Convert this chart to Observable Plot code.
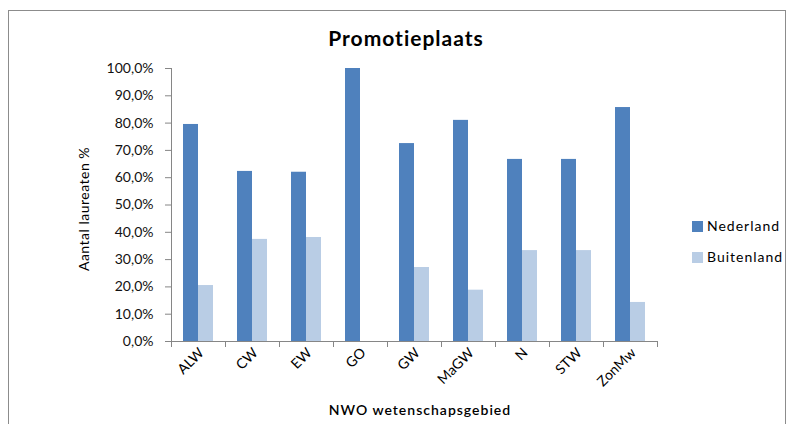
<!DOCTYPE html>
<html>
<head>
<meta charset="utf-8">
<script src="https://cdn.jsdelivr.net/npm/d3@7"></script>
<script src="https://cdn.jsdelivr.net/npm/@observablehq/plot@0.6"></script>
<style>
  body { margin: 0; background: #fff; }
  #wrap { position: relative; width: 793px; height: 424px; overflow: hidden; background: #fff; font-family: Lato, "Open Sans", sans-serif; }
  #border { position: absolute; left: 8px; top: 10px; width: 778px; height: 430px; border: 1px solid #8c8c8c; box-sizing: border-box; }
  #title { position: absolute; left: 0; width: 812px; top: 25px; text-align: center; font-weight: bold; font-size: 21px; letter-spacing: 1px; color: #000; }
  #ylab { position: absolute; left: 83px; top: 209px; transform: translate(-50%, -50%) rotate(-90deg); white-space: nowrap; font-size: 14px; letter-spacing: 0.5px; color: #000; }
  #xlab { position: absolute; left: 0; width: 840px; top: 401px; text-align: center; font-size: 14px; font-weight: 600; letter-spacing: 1px; color: #000; }
  .leg { position: absolute; left: 692px; font-size: 14px; letter-spacing: 1px; color: #000; white-space: nowrap; }
  .sw { display: inline-block; width: 11px; height: 11px; margin-right: 4px; vertical-align: -1px; }
  #chart { position: absolute; left: 0; top: 0; }
</style>
</head>
<body>
<div id="wrap">
  <div id="border"></div>
  <div id="chart"></div>
  <div id="title">Promotieplaats</div>
  <div id="ylab">Aantal laureaten %</div>
  <div id="xlab">NWO wetenschapsgebied</div>
  <div id="legend"></div>
</div>
<script>
const categories = ["ALW", "CW", "EW", "GO", "GW", "MaGW", "N", "STW", "ZonMw"];
const series = ["Nederland", "Buitenland"];
const nederland = [0.795, 0.623, 0.620, 1.000, 0.725, 0.810, 0.667, 0.667, 0.857];
const buitenland = [0.205, 0.374, 0.381, 0.000, 0.271, 0.188, 0.333, 0.333, 0.143];
const colors = ["#4F81BD", "#B9CDE5"];
const yTicks = [0, 0.1, 0.2, 0.3, 0.4, 0.5, 0.6, 0.7, 0.8, 0.9, 1.0];

const seriesValues = [nederland, buitenland];
const data = [];
categories.forEach((c, i) => {
  series.forEach((s, j) => data.push({cat: c, series: s, value: seriesValues[j][i]}));
});

const fmt = d => (d * 100).toFixed(1).replace(".", ",") + "%";
const axisColor = "#868686";
const plotH = 424 - 68 - 83;

const chart = Plot.plot({
  width: 793,
  height: 424,
  marginLeft: 167,
  marginRight: 132,
  marginTop: 68,
  marginBottom: 83,
  style: {fontFamily: "Lato, 'Open Sans', sans-serif", fontSize: "14px", color: "#000", background: "transparent"},
  fx: {domain: categories, padding: 0, label: null},
  x: {domain: series, paddingInner: 0, paddingOuter: 0.77, axis: null},
  y: {domain: [0, 1], label: null},
  color: {domain: series, range: colors},
  marks: [
    Plot.barY(data, {fx: "cat", x: "series", y: "value", fill: "series"}),
    Plot.frame({anchor: "left", facet: "super", stroke: axisColor}),
    Plot.frame({anchor: "bottom", facet: "super", stroke: axisColor}),
    Plot.frame({anchor: "left", stroke: axisColor, insetTop: plotH, insetBottom: -5}),
    Plot.frame({anchor: "right", facet: "super", stroke: axisColor, insetTop: plotH, insetBottom: -5}),
    Plot.axisY({ticks: yTicks, tickSize: 6, tickPadding: 12, tickFormat: fmt, stroke: axisColor, fill: "#111", label: null, style: "letter-spacing:0.9px"}),
    Plot.axisFx({anchor: "bottom", tickRotate: -45, tickSize: 0, tickPadding: 9, dx: 3, label: null, fill: "#000", style: "letter-spacing:1.2px"})
  ]
});
document.getElementById("chart").appendChild(chart);

const legend = document.getElementById("legend");
series.forEach((s, j) => {
  const d = document.createElement("div");
  d.className = "leg";
  d.style.top = (217 + j * 31) + "px";
  d.innerHTML = `<span class="sw" style="background:${colors[j]}"></span>${s}`;
  legend.appendChild(d);
});
</script>
</body>
</html>
